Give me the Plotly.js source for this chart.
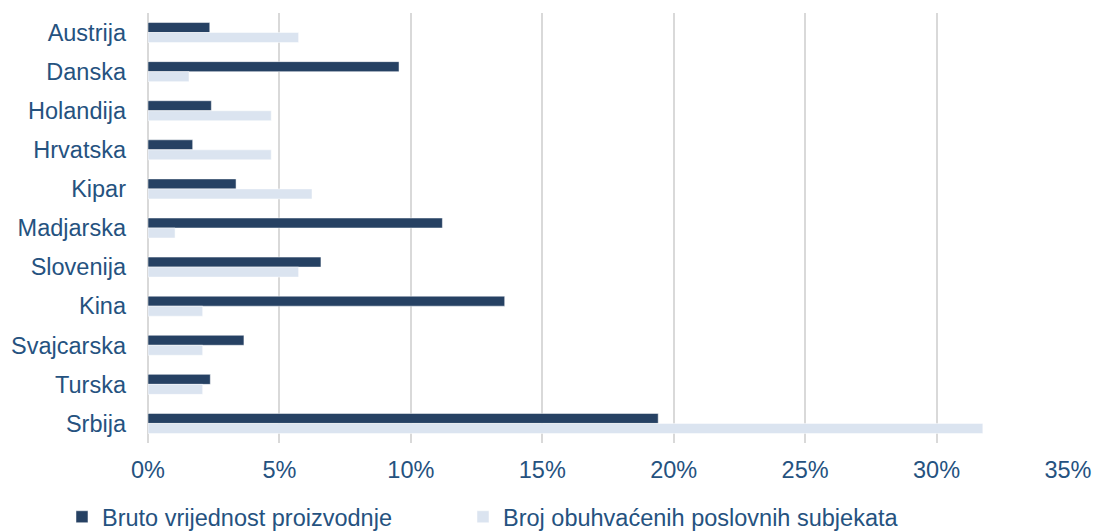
<!DOCTYPE html>
<html>
<head>
<meta charset="utf-8">
<script src="https://cdn.plot.ly/plotly-3.0.1.min.js"></script>
<style>html,body{margin:0;padding:0;background:#fff;}#chart{width:1095px;height:532px;}</style>
</head>
<body>
<div id="chart"></div>
<script>
const countries = ["Austrija","Danska","Holandija","Hrvatska","Kipar","Madjarska","Slovenija","Kina","Svajcarska","Turska","Srbija"];
const brutoVrijednost = [2.35, 9.55, 2.41, 1.70, 3.35, 11.2, 6.58, 13.57, 3.65, 2.37, 19.41];
const brojSubjekata = [5.73, 1.56, 4.69, 4.69, 6.24, 1.03, 5.73, 2.08, 2.08, 2.08, 31.76];
const seriesNames = ["Bruto vrijednost proizvodnje", "Broj obuhvaćenih poslovnih subjekata"];
const xTicks = [0, 5, 10, 15, 20, 25, 30, 35];
const xTickLabels = ["0%", "5%", "10%", "15%", "20%", "25%", "30%", "35%"];

const textColor = "#25527f";
const font = {family: "'Liberation Sans', Arial, sans-serif", size: 23.5, color: textColor};

const traces = [
  {type: "bar", orientation: "h", name: seriesNames[0], y: countries, x: brutoVrijednost,
   marker: {color: "#264163", line: {color: "#ffffff", width: 0.5}}, legend: "legend"},
  {type: "bar", orientation: "h", name: seriesNames[1], y: countries, x: brojSubjekata,
   marker: {color: "#dbe4f0", line: {color: "#ffffff", width: 0.5}}, legend: "legend2"}
];

const layout = {
  width: 1095, height: 532,
  margin: {l: 148, r: 27, t: 13, b: 89, pad: 0, autoexpand: false},
  paper_bgcolor: "#ffffff", plot_bgcolor: "#ffffff",
  font: font,
  barmode: "group",
  bargap: 0.488,
  bargroupgap: 0,
  showlegend: true,
  legend: {orientation: "h", x: -0.0935, xanchor: "left", y: -0.172, yanchor: "middle",
           font: font, bgcolor: "rgba(0,0,0,0)"},
  legend2: {orientation: "h", x: 0.3424, xanchor: "left", y: -0.172, yanchor: "middle",
           font: font, bgcolor: "rgba(0,0,0,0)"},
  xaxis: {range: [0, 35], tickmode: "array", tickvals: xTicks, ticktext: xTickLabels, showgrid: true,
          gridcolor: "#d9d9d9", gridwidth: 2, zeroline: true, zerolinecolor: "#d9d9d9",
          zerolinewidth: 2, showline: false, ticks: "", ticklabelstandoff: 10, fixedrange: true},
  yaxis: {autorange: "reversed", type: "category", showgrid: false, zeroline: false,
          showline: false, ticks: "", ticklabelstandoff: 21, fixedrange: true}
};

Plotly.newPlot("chart", traces, layout, {displayModeBar: false, staticPlot: true});
</script>
</body>
</html>
